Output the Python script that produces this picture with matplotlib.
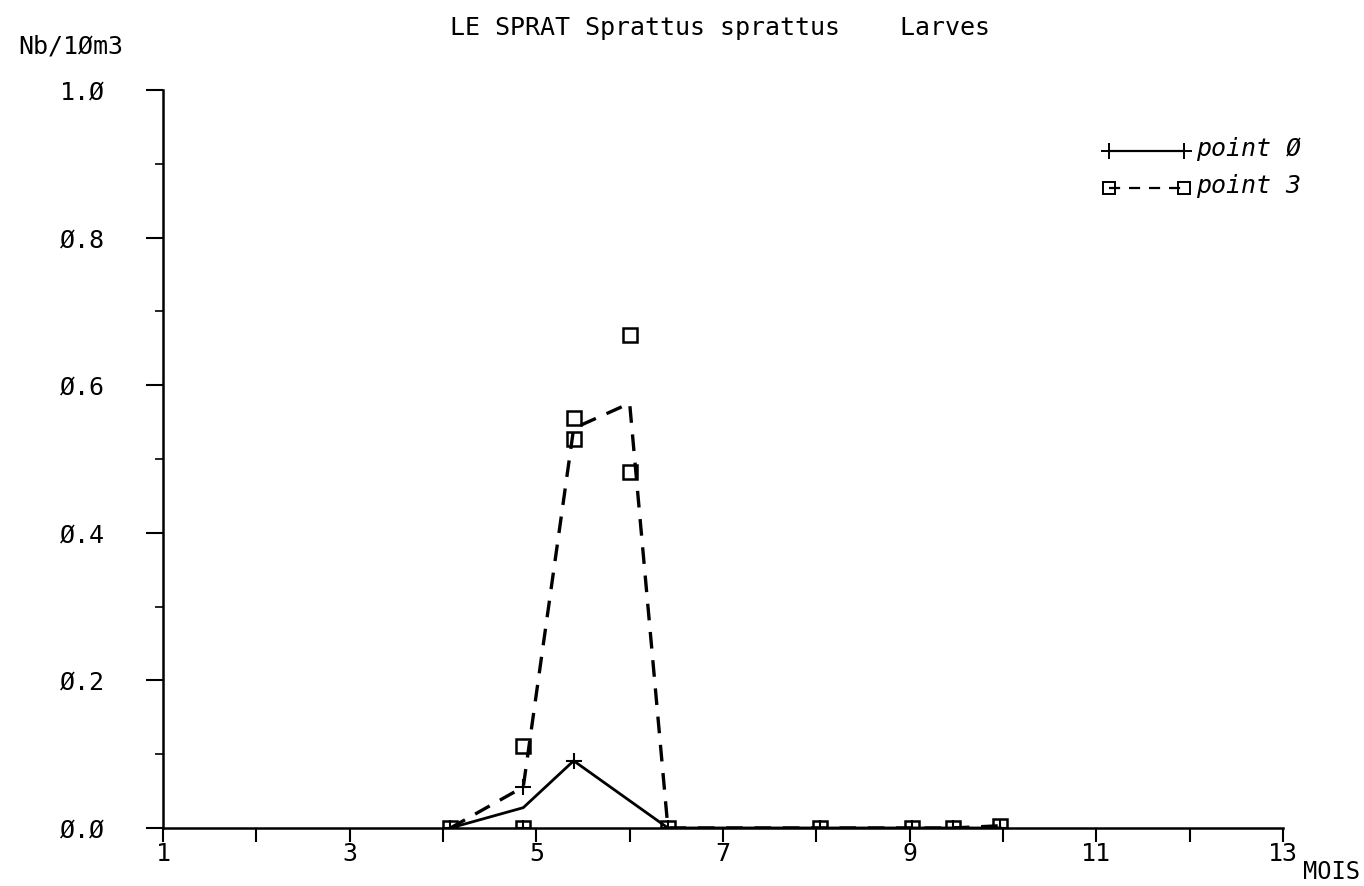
import matplotlib.pyplot as plt
import numpy as np

# dates (mois) and raw values
mois_p0 = [4.08, 4.86, 4.86, 5.40, 6.41, 8.04, 9.03, 9.46, 9.97]
val_p0 = [0.0, 0.055, 0.0, 0.091, 0.0, 0.0, 0.0, 0.0, 0.0]

mois_p3 = [4.08, 4.86, 4.86, 5.40, 5.40, 6.00, 6.00, 6.41, 8.04, 9.03, 9.46, 9.97]
val_p3 = [0.0, 0.111, 0.0, 0.556, 0.527, 0.668, 0.483, 0.0, 0.0, 0.0, 0.0, 0.003]

xticks = [1, 3, 5, 7, 9, 11, 13]
yticks = [0.0, 0.2, 0.4, 0.6, 0.8, 1.0]


def moyennes(x, y):
    x = np.array(x)
    y = np.array(y)
    ux = np.unique(x)
    return ux, np.array([y[x == u].mean() for u in ux])


plt.rcParams['font.family'] = ['DejaVu Sans Mono', 'DejaVu Sans']

fig = plt.figure(figsize=(13.64, 8.86), dpi=100)
ax = fig.add_axes([0.1195, 0.0655, 0.8211, 0.8329])

mx0, my0 = moyennes(mois_p0, val_p0)
mx3, my3 = moyennes(mois_p3, val_p3)

ax.plot(mx0, my0, color='black', lw=2)
ax.plot(mois_p0, val_p0, ls='none', marker='+', ms=11, mew=1.5, color='black')
ax.plot(mx3, my3, color='black', lw=2.4, ls=(0, (5, 3.5)))
ax.plot(mois_p3, val_p3, ls='none', marker='s', ms=10, mfc='none', mew=1.8, color='black')

ax.set_xlim(1, 13)
ax.set_ylim(0, 1.0)
for s in ['top', 'right']:
    ax.spines[s].set_visible(False)
ax.spines['left'].set_linewidth(1.8)
ax.spines['bottom'].set_linewidth(1.8)

ax.set_xticks(range(1, 14), minor=True)
ax.set_xticks(xticks)
ax.set_xticklabels([str(t) for t in xticks], fontsize=18)
ax.set_yticks(np.arange(0, 1.01, 0.1), minor=True)
ax.set_yticks(yticks)
ax.set_yticklabels([('%.1f' % t).replace('0', 'Ø') for t in yticks], fontsize=18)
ax.tick_params(axis='x', which='both', direction='out', length=10, width=1.5, pad=0)
ax.tick_params(axis='y', which='major', direction='out', length=12, width=1.5, pad=30)
ax.tick_params(axis='y', which='minor', direction='out', length=6, width=1.2)

fig.text(0.528, 0.968, 'LE SPRAT Sprattus sprattus    Larves', ha='center', va='center', fontsize=18)
fig.text(0.052, 0.947, 'Nb/1Øm3', ha='center', va='center', fontsize=18)
fig.text(0.976, 0.016, 'MOIS', ha='center', va='center', fontsize=17)

# legend drawn by hand like the plotter did
fig.lines.append(plt.Line2D([0.813, 0.868], [0.83, 0.83], color='black', lw=1.6,
                            marker='+', ms=11, mew=1.4, markevery=[0, 1], transform=fig.transFigure))
fig.lines.append(plt.Line2D([0.813, 0.868], [0.788, 0.788], color='black', lw=1.6, ls=(0, (5, 4)),
                            marker='s', ms=9, mfc='none', mew=1.4, markevery=[0, 1], transform=fig.transFigure))
fig.text(0.877, 0.832, 'point Ø', style='italic', fontsize=18, va='center')
fig.text(0.877, 0.790, 'point 3', style='italic', fontsize=18, va='center')

fig.savefig('out.png', dpi=100)
